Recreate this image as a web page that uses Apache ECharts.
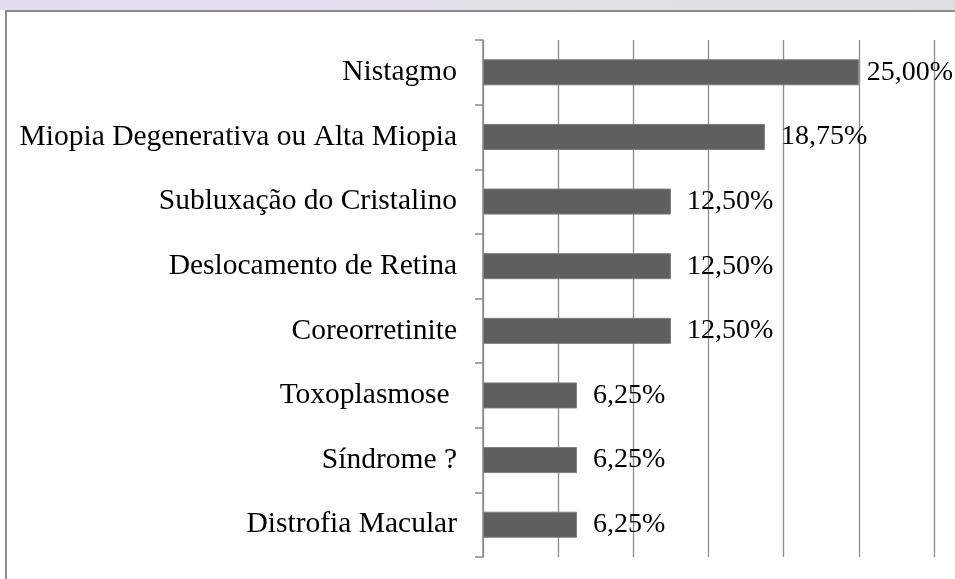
<!DOCTYPE html>
<html>
<head>
<meta charset="utf-8">
<script src="https://cdn.jsdelivr.net/npm/echarts@6/dist/echarts.min.js"></script>
<style>
  html, body { margin: 0; padding: 0; background: #ffffff; }
  #wrap { position: relative; width: 955px; height: 579px; overflow: hidden; background: #ffffff; }
  #band { position: absolute; left: 0; top: 0; width: 955px; height: 10px;
          background: linear-gradient(to right, #e2dcec 0%, #e4dfee 35%, #e1e1e3 60%, #dfdfe1 100%); }
  #frame { position: absolute; left: 5px; top: 10px; width: 970px; height: 600px;
           border-left: 2px solid #8a8a8a; border-top: 2px solid #8a8a8a; }
  #chart { position: absolute; left: 0; top: 0; width: 955px; height: 579px; }
</style>
</head>
<body>
<div id="wrap">
  <div id="band"></div>
  <div id="frame"></div>
  <div id="chart"></div>
</div>
<script>
const categories = [
  'Nistagmo',
  'Miopia Degenerativa ou Alta Miopia',
  'Subluxação do Cristalino',
  'Deslocamento de Retina',
  'Coreorretinite',
  'Toxoplasmose ',
  'Síndrome ?',
  'Distrofia Macular'
];
const percentValues = [25.00, 18.75, 12.50, 12.50, 12.50, 6.25, 6.25, 6.25];

const axisMin = 0;
const axisMax = 30;
const axisStep = 5;

const fontFamily = '"Liberation Serif", "Times New Roman", serif';

const maxVal = Math.max.apply(null, percentValues);
const seriesData = percentValues.map(function (v) {
  return v === maxVal ? { value: v, label: { distance: 8 } } : { value: v };
});

const chart = echarts.init(document.getElementById('chart'), null, { renderer: 'canvas' });
chart.setOption({
  backgroundColor: 'transparent',
  animation: false,
  grid: { left: 483, right: 21, top: 40, bottom: 22, containLabel: false },
  xAxis: {
    type: 'value',
    min: axisMin,
    max: axisMax,
    interval: axisStep,
    axisLine: { show: false },
    axisTick: { show: false },
    axisLabel: { show: false },
    splitLine: { show: true, lineStyle: { color: '#8c8c8c', width: 1.3 } }
  },
  yAxis: {
    type: 'category',
    data: categories,
    inverse: true,
    axisLine: { show: true, lineStyle: { color: '#8c8c8c', width: 1.5 } },
    axisTick: { show: true, length: 8, lineStyle: { color: '#8c8c8c', width: 1.5 } },
    axisLabel: {
      color: '#000000',
      fontFamily: fontFamily,
      fontSize: 29.5,
      margin: 26
    },
    splitLine: { show: false }
  },
  series: [{
    type: 'bar',
    data: seriesData,
    barWidth: 26,
    itemStyle: { color: '#5f5f5f', borderColor: '#7c7c7c', borderWidth: 1 },
    label: {
      show: true,
      position: 'right',
      distance: 16,
      color: '#000000',
      fontFamily: fontFamily,
      fontSize: 28,
      formatter: function (p) { return p.value.toFixed(2).replace('.', ',') + '%'; }
    }
  }]
});
</script>
</body>
</html>
